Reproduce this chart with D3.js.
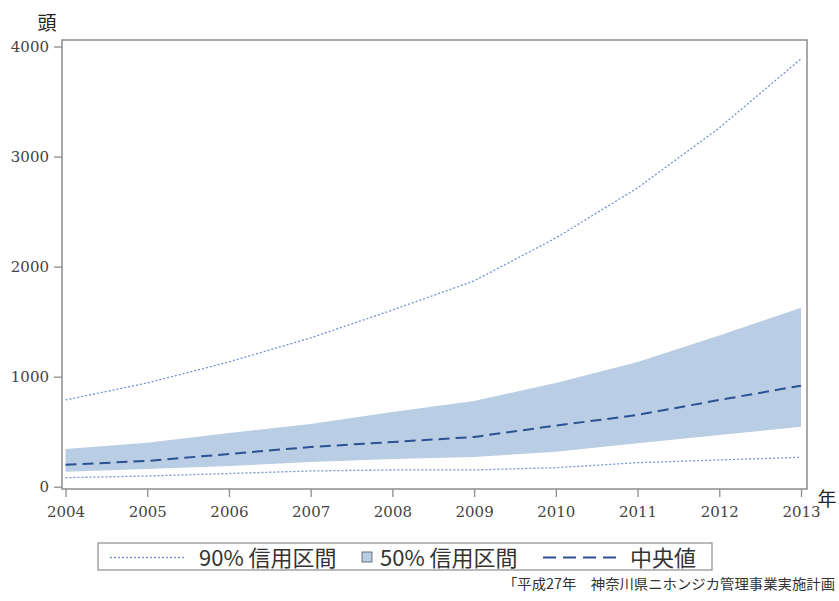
<!DOCTYPE html>
<html>
<head>
<meta charset="utf-8">
<script src="https://cdn.jsdelivr.net/npm/d3@7"></script>
<style>
  body { margin: 0; background: #fff; }
  svg { display: block; }
</style>
</head>
<body>
<svg id="drawing_region"></svg>
<script>
// 推定値 (頭)
const years = [2004, 2005, 2006, 2007, 2008, 2009, 2010, 2011, 2012, 2013];
const upper90 = [788, 943, 1134, 1352, 1605, 1870, 2260, 2715, 3260, 3888];
const upper50 = [343, 400, 488, 570, 679, 779, 943, 1134, 1373, 1627];
const median = [200, 234, 297, 361, 406, 452, 555, 652, 788, 918];
const lower50 = [136, 161, 188, 224, 252, 270, 318, 395, 470, 545];
const lower90 = [82, 97, 120, 143, 152, 152, 173, 218, 243, 267];
const yticks = [0, 1000, 2000, 3000, 4000];

const config = {
    width: 839,
    height: 601,
    frame: {left: 62, right: 807, top: 40, bottom: 489}
};

const svg = d3.select('#drawing_region')
    .attr('width', config.width)
    .attr('height', config.height);

const xscale = d3.scaleLinear()
    .domain([2004, 2013])
    .range([65.5, 801]);

const yscale = d3.scaleLinear()
    .domain([0, 4000])
    .range([486.7, 46.5]);

const rows = years.map((y, i) => ({
    year: y, u90: upper90[i], u50: upper50[i], m: median[i], l50: lower50[i], l90: lower90[i]
}));

// 50% 区間
svg.append('path')
    .datum(rows)
    .attr('fill', '#b9cde5')
    .attr('d', d3.area()
        .x(d => xscale(d.year))
        .y0(d => yscale(d.l50))
        .y1(d => yscale(d.u50)));

const line = key => d3.line()
    .x(d => xscale(d.year))
    .y(d => yscale(d[key]));

['u90', 'l90'].forEach(k => {
    svg.append('path')
        .datum(rows)
        .attr('fill', 'none')
        .attr('stroke', '#7392d3')
        .attr('stroke-width', 1.3)
        .attr('stroke-dasharray', '2,2')
        .attr('d', line(k));
});

svg.append('path')
    .datum(rows)
    .attr('fill', 'none')
    .attr('stroke', '#2b5192')
    .attr('stroke-width', 2)
    .attr('stroke-dasharray', '11,6')
    .attr('d', line('m'));

// 枠
const f = config.frame;
svg.append('rect')
    .attr('x', f.left)
    .attr('y', f.top)
    .attr('width', f.right - f.left)
    .attr('height', f.bottom - f.top)
    .attr('fill', 'none')
    .attr('stroke', '#8c8c8c')
    .attr('stroke-width', 1.5);

// 軸
const yaxis = d3.axisLeft(yscale)
    .tickValues(yticks)
    .tickFormat(d3.format('d'))
    .tickSize(8)
    .tickPadding(5)
    .tickSizeOuter(0);

const yaxis_group = svg.append('g')
    .attr('transform', `translate(${f.left}, 0)`)
    .call(yaxis);

const xaxis = d3.axisBottom(xscale)
    .tickValues(years)
    .tickFormat(d3.format('d'))
    .tickSize(8)
    .tickPadding(9)
    .tickSizeOuter(0);

const xaxis_group = svg.append('g')
    .attr('transform', `translate(0, ${f.bottom})`)
    .call(xaxis);

[yaxis_group, xaxis_group].forEach(g => {
    g.attr('font-family', 'DejaVu Serif').attr('font-size', 15);
    g.select('.domain').remove();
    g.selectAll('.tick line').attr('stroke', '#8c8c8c').attr('stroke-width', 1.3);
    g.selectAll('.tick text')
        .attr('fill', '#444')
        .attr('font-family', 'DejaVu Serif')
        .attr('font-size', 15);
});

svg.append('text')
    .attr('x', 47)
    .attr('y', 30)
    .attr('text-anchor', 'middle')
    .style('font-family', '"Noto Sans CJK JP", sans-serif')
    .style('font-size', '19px')
    .attr('fill', '#222')
    .text('頭');

svg.append('text')
    .attr('x', 827)
    .attr('y', 506)
    .attr('text-anchor', 'middle')
    .style('font-family', '"Noto Sans CJK JP", sans-serif')
    .style('font-size', '19px')
    .attr('fill', '#222')
    .text('年');

// 凡例
const legend = svg.append('g');
legend.append('rect')
    .attr('x', 98).attr('y', 543)
    .attr('width', 614).attr('height', 27)
    .attr('fill', '#fff')
    .attr('stroke', '#8c8c8c')
    .attr('stroke-width', 1.2);

const lg_y = 557.5;
legend.append('line')
    .attr('x1', 110).attr('x2', 186)
    .attr('y1', lg_y).attr('y2', lg_y)
    .attr('stroke', '#7392d3')
    .attr('stroke-width', 1.3)
    .attr('stroke-dasharray', '2,2');

legend.append('rect')
    .attr('x', 362).attr('y', 552)
    .attr('width', 10).attr('height', 10)
    .attr('fill', '#b9cde5')
    .attr('stroke', '#555')
    .attr('stroke-width', 0.8);

legend.append('line')
    .attr('x1', 543).attr('x2', 618)
    .attr('y1', lg_y).attr('y2', lg_y)
    .attr('stroke', '#2b5192')
    .attr('stroke-width', 2)
    .attr('stroke-dasharray', '13,7');

const legend_labels = [
    {x: 199, text: '90% 信用区間'},
    {x: 380, text: '50% 信用区間'},
    {x: 630, text: '中央値'}
];

legend.selectAll('text.lab').data(legend_labels)
    .join('text')
    .attr('class', 'lab')
    .attr('x', d => d.x)
    .attr('y', 566)
    .attr('fill', '#333')
    .style('font-family', '"Noto Sans CJK JP", sans-serif')
    .style('font-size', '22px')
    .text(d => d.text);

svg.append('text')
    .attr('x', 503)
    .attr('y', 589)
    .attr('fill', '#333')
    .attr('textLength', 332)
    .attr('lengthAdjust', 'spacingAndGlyphs')
    .style('font-family', '"Noto Sans CJK JP", sans-serif')
    .style('font-size', '14px')
    .text('「平成27年　神奈川県ニホンジカ管理事業実施計画');
</script>
</body>
</html>
